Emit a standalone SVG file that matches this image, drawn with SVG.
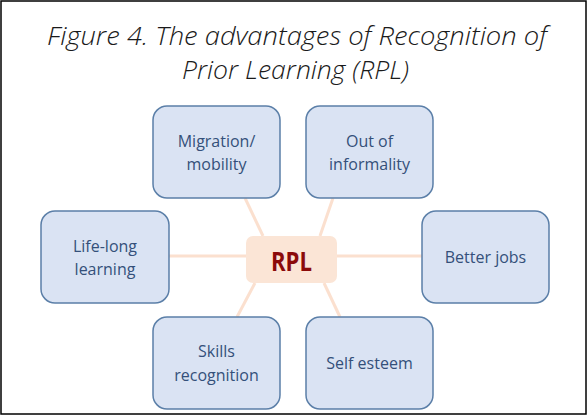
<svg xmlns="http://www.w3.org/2000/svg" width="588" height="416" viewBox="0 0 588 416">
  <style>
    .title { font-family: "Open Sans", "Liberation Sans", sans-serif; font-style: italic; font-weight: 300; font-size: 25px; fill: #1a1a1a; }
    .box { fill: #DAE3F3; stroke: #5B7FA8; stroke-width: 1.5; }
    .lbl { font-family: "Open Sans", "Liberation Sans", sans-serif; font-size: 16px; fill: #34507A; text-anchor: middle; }
    .conn { stroke: #FBE0CF; stroke-width: 3; stroke-linecap: butt; }
    .hub { fill: #FBE5D6; }
    .hubtxt { font-family: "Open Sans", "Liberation Sans", sans-serif; font-weight: 700; font-size: 27px; fill: #8B0A0A; text-anchor: middle; }
  </style>
  <rect x="0" y="0" width="588" height="416" fill="#ffffff"/>
  <rect x="1" y="1" width="585" height="413" fill="none" stroke="#000000" stroke-width="1.5"/>
  <g id="title">
    <text class="title" x="47" y="45" textLength="500" lengthAdjust="spacingAndGlyphs">Figure 4. The advantages of Recognition of</text>
    <text class="title" x="182" y="79" textLength="227" lengthAdjust="spacingAndGlyphs">Prior Learning (RPL)</text>
  </g>
  <g id="connectors">
    <line class="conn" x1="245" y1="198" x2="263" y2="236"/>
    <line class="conn" x1="333" y1="198" x2="320" y2="236"/>
    <line class="conn" x1="169" y1="256" x2="246" y2="256"/>
    <line class="conn" x1="337" y1="256" x2="422" y2="256"/>
    <line class="conn" x1="255" y1="283" x2="237" y2="317"/>
    <line class="conn" x1="324" y1="283" x2="340" y2="317"/>
  </g>
  <g id="migration">
    <rect class="box" x="153" y="106" width="127" height="92" rx="14"/>
    <text class="lbl" x="216.5" y="147">Migration/</text>
    <text class="lbl" x="216.5" y="170">mobility</text>
  </g>
  <g id="informality">
    <rect class="box" x="306" y="106" width="127" height="92" rx="14"/>
    <text class="lbl" x="369.5" y="147">Out of</text>
    <text class="lbl" x="369.5" y="170">informality</text>
  </g>
  <g id="lifelong">
    <rect class="box" x="41" y="211" width="128" height="92" rx="14"/>
    <text class="lbl" x="105" y="252">Life-long</text>
    <text class="lbl" x="105" y="275">learning</text>
  </g>
  <g id="betterjobs">
    <rect class="box" x="422" y="211" width="127" height="92" rx="14"/>
    <text class="lbl" x="485.5" y="263">Better jobs</text>
  </g>
  <g id="skills">
    <rect class="box" x="153" y="317" width="127" height="92" rx="14"/>
    <text class="lbl" x="216.5" y="357">Skills</text>
    <text class="lbl" x="216.5" y="381">recognition</text>
  </g>
  <g id="selfesteem">
    <rect class="box" x="306" y="317" width="127" height="92" rx="14"/>
    <text class="lbl" x="369.5" y="369">Self esteem</text>
  </g>
  <g id="rpl">
    <rect class="hub" x="246" y="236" width="91" height="47" rx="7"/>
    <text class="hubtxt" x="291.5" y="271" textLength="41" lengthAdjust="spacingAndGlyphs">RPL</text>
  </g>
</svg>
